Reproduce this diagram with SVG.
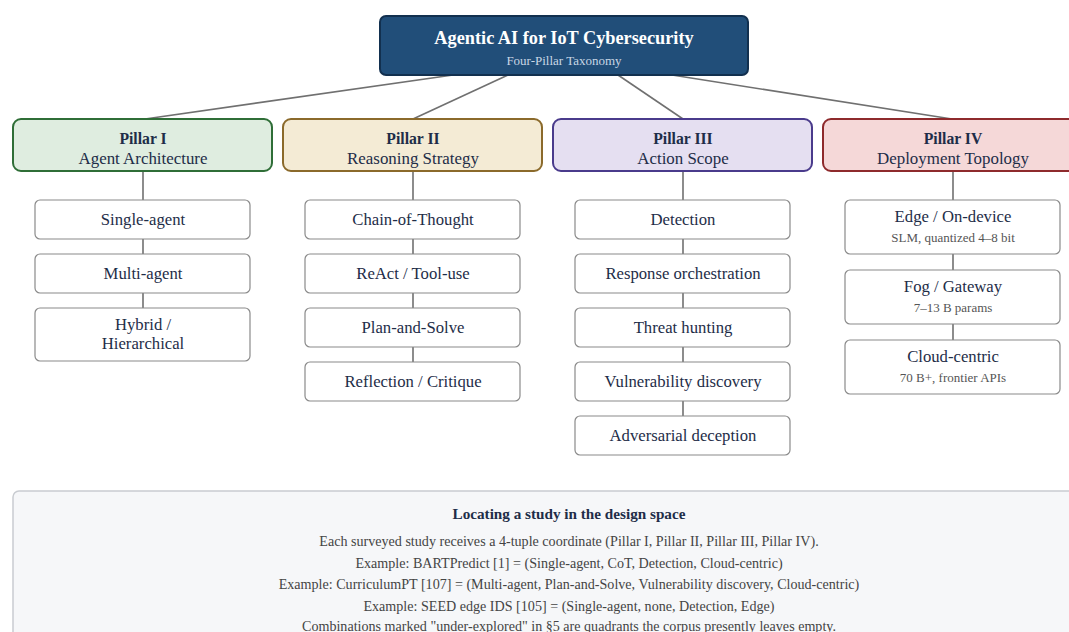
<svg xmlns="http://www.w3.org/2000/svg" width="1069" height="632" viewBox="0 0 1069 632">
  <style>
    text { font-family: "Liberation Serif", "Times New Roman", serif; text-anchor: middle; fill: #1e2d48; }
    .root-box { fill: #214e79; stroke: #12304f; stroke-width: 2; }
    .root-title { font-size: 18.3px; font-weight: bold; fill: #ffffff; }
    .root-sub { font-size: 13px; fill: #c9d6e5; }
    .pillar-box { stroke-width: 2; }
    .p1 { fill: #dfede0; stroke: #2f6e37; }
    .p2 { fill: #f4ebd5; stroke: #8b6a2b; }
    .p3 { fill: #e5dff1; stroke: #4a3b8c; }
    .p4 { fill: #f5d8d8; stroke: #8e2a2c; }
    .pillar-num { font-size: 15.7px; font-weight: bold; }
    .pillar-name { font-size: 16.9px; }
    .leaf-box { fill: #ffffff; stroke: #8a8a8a; stroke-width: 1.2; }
    .leaf { font-size: 16.7px; }
    .leaf-sub { font-size: 13px; fill: #555555; }
    .edge { stroke: #707070; stroke-width: 1.6; fill: none; }
    .panel { fill: #f6f7f9; stroke: #c9ccd1; stroke-width: 1.5; }
    .panel-title { font-size: 15.2px; font-weight: bold; }
    .panel-line { font-size: 14.1px; fill: #444444; }
  </style>

  <!-- connectors -->
  <g id="connectors">
    <line class="edge" x1="453" y1="75" x2="145" y2="119"/>
    <line class="edge" x1="508" y1="75" x2="413" y2="119"/>
    <line class="edge" x1="618" y1="75" x2="683" y2="119"/>
    <line class="edge" x1="672" y1="75" x2="952" y2="119"/>
    <!-- Pillar I chain -->
    <line class="edge" x1="143" y1="171" x2="143" y2="200"/>
    <line class="edge" x1="143" y1="239" x2="143" y2="254"/>
    <line class="edge" x1="143" y1="293" x2="143" y2="308"/>
    <!-- Pillar II chain -->
    <line class="edge" x1="413" y1="171" x2="413" y2="200"/>
    <line class="edge" x1="413" y1="239" x2="413" y2="254"/>
    <line class="edge" x1="413" y1="293" x2="413" y2="308"/>
    <line class="edge" x1="413" y1="347" x2="413" y2="362"/>
    <!-- Pillar III chain -->
    <line class="edge" x1="683" y1="171" x2="683" y2="200"/>
    <line class="edge" x1="683" y1="239" x2="683" y2="254"/>
    <line class="edge" x1="683" y1="293" x2="683" y2="308"/>
    <line class="edge" x1="683" y1="347" x2="683" y2="362"/>
    <line class="edge" x1="683" y1="401" x2="683" y2="416"/>
    <!-- Pillar IV chain -->
    <line class="edge" x1="953" y1="171" x2="953" y2="200"/>
    <line class="edge" x1="953" y1="254" x2="953" y2="270"/>
    <line class="edge" x1="953" y1="324" x2="953" y2="340"/>
  </g>

  <!-- root -->
  <g id="root">
    <rect class="root-box" x="380" y="16" width="368" height="59" rx="6"/>
    <text class="root-title" x="564" y="44">Agentic AI for IoT Cybersecurity</text>
    <text class="root-sub" x="564" y="65">Four-Pillar Taxonomy</text>
  </g>

  <!-- pillars -->
  <g id="pillar-1">
    <rect class="pillar-box p1" x="13" y="119" width="259" height="52" rx="8"/>
    <text class="pillar-num" x="143" y="144">Pillar I</text>
    <text class="pillar-name" x="143" y="164">Agent Architecture</text>
  </g>
  <g id="pillar-2">
    <rect class="pillar-box p2" x="283" y="119" width="259" height="52" rx="8"/>
    <text class="pillar-num" x="413" y="144">Pillar II</text>
    <text class="pillar-name" x="413" y="164">Reasoning Strategy</text>
  </g>
  <g id="pillar-3">
    <rect class="pillar-box p3" x="553" y="119" width="259" height="52" rx="8"/>
    <text class="pillar-num" x="683" y="144">Pillar III</text>
    <text class="pillar-name" x="683" y="164">Action Scope</text>
  </g>
  <g id="pillar-4">
    <rect class="pillar-box p4" x="823" y="119" width="259" height="52" rx="8"/>
    <text class="pillar-num" x="953" y="144">Pillar IV</text>
    <text class="pillar-name" x="953" y="164">Deployment Topology</text>
  </g>

  <!-- Pillar I leaves -->
  <g id="single-agent">
    <rect class="leaf-box" x="35" y="200" width="215" height="39" rx="5"/>
    <text class="leaf" x="143" y="225">Single-agent</text>
  </g>
  <g id="multi-agent">
    <rect class="leaf-box" x="35" y="254" width="215" height="39" rx="5"/>
    <text class="leaf" x="143" y="279">Multi-agent</text>
  </g>
  <g id="hybrid">
    <rect class="leaf-box" x="35" y="308" width="215" height="53" rx="5"/>
    <text class="leaf" x="143" y="330">Hybrid /</text>
    <text class="leaf" x="143" y="349">Hierarchical</text>
  </g>

  <!-- Pillar II leaves -->
  <g id="cot">
    <rect class="leaf-box" x="305" y="200" width="215" height="39" rx="5"/>
    <text class="leaf" x="413" y="225">Chain-of-Thought</text>
  </g>
  <g id="react">
    <rect class="leaf-box" x="305" y="254" width="215" height="39" rx="5"/>
    <text class="leaf" x="413" y="279">ReAct / Tool-use</text>
  </g>
  <g id="plan-solve">
    <rect class="leaf-box" x="305" y="308" width="215" height="39" rx="5"/>
    <text class="leaf" x="413" y="333">Plan-and-Solve</text>
  </g>
  <g id="reflection">
    <rect class="leaf-box" x="305" y="362" width="215" height="39" rx="5"/>
    <text class="leaf" x="413" y="387">Reflection / Critique</text>
  </g>

  <!-- Pillar III leaves -->
  <g id="detection">
    <rect class="leaf-box" x="575" y="200" width="215" height="39" rx="5"/>
    <text class="leaf" x="683" y="225">Detection</text>
  </g>
  <g id="response">
    <rect class="leaf-box" x="575" y="254" width="215" height="39" rx="5"/>
    <text class="leaf" x="683" y="279">Response orchestration</text>
  </g>
  <g id="threat-hunting">
    <rect class="leaf-box" x="575" y="308" width="215" height="39" rx="5"/>
    <text class="leaf" x="683" y="333">Threat hunting</text>
  </g>
  <g id="vuln-discovery">
    <rect class="leaf-box" x="575" y="362" width="215" height="39" rx="5"/>
    <text class="leaf" x="683" y="387">Vulnerability discovery</text>
  </g>
  <g id="deception">
    <rect class="leaf-box" x="575" y="416" width="215" height="39" rx="5"/>
    <text class="leaf" x="683" y="441">Adversarial deception</text>
  </g>

  <!-- Pillar IV leaves -->
  <g id="edge-device">
    <rect class="leaf-box" x="845" y="200" width="215" height="54" rx="5"/>
    <text class="leaf" x="953" y="222">Edge / On-device</text>
    <text class="leaf-sub" x="953" y="242">SLM, quantized 4–8 bit</text>
  </g>
  <g id="fog-gateway">
    <rect class="leaf-box" x="845" y="270" width="215" height="54" rx="5"/>
    <text class="leaf" x="953" y="292">Fog / Gateway</text>
    <text class="leaf-sub" x="953" y="312">7–13 B params</text>
  </g>
  <g id="cloud-centric">
    <rect class="leaf-box" x="845" y="340" width="215" height="54" rx="5"/>
    <text class="leaf" x="953" y="362">Cloud-centric</text>
    <text class="leaf-sub" x="953" y="382">70 B+, frontier APIs</text>
  </g>

  <!-- legend panel -->
  <g id="design-space-note">
    <rect class="panel" x="13" y="491" width="1080" height="160" rx="6"/>
    <text class="panel-title" x="569" y="519">Locating a study in the design space</text>
    <text class="panel-line" x="569" y="546">Each surveyed study receives a 4-tuple coordinate (Pillar I, Pillar II, Pillar III, Pillar IV).</text>
    <text class="panel-line" x="569" y="568">Example: BARTPredict [1] = (Single-agent, CoT, Detection, Cloud-centric)</text>
    <text class="panel-line" x="569" y="589">Example: CurriculumPT [107] = (Multi-agent, Plan-and-Solve, Vulnerability discovery, Cloud-centric)</text>
    <text class="panel-line" x="569" y="611">Example: SEED edge IDS [105] = (Single-agent, none, Detection, Edge)</text>
    <text class="panel-line" x="569" y="631">Combinations marked "under-explored" in §5 are quadrants the corpus presently leaves empty.</text>
  </g>
</svg>
